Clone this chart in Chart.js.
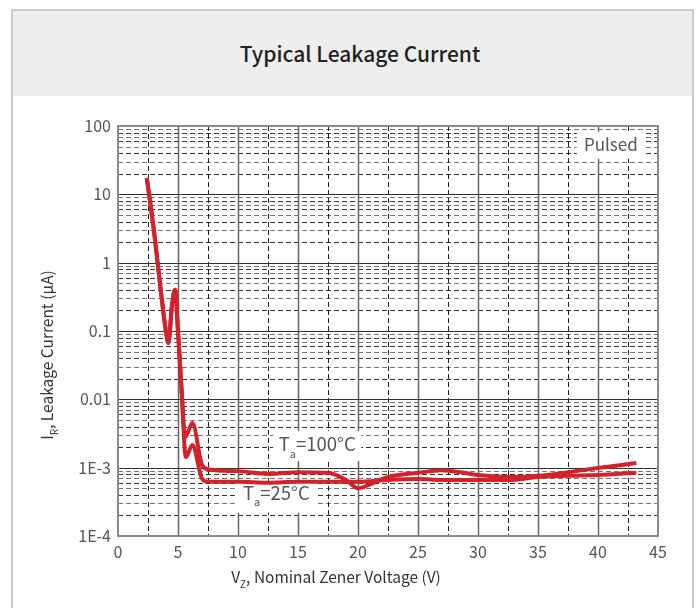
<!DOCTYPE html>
<html><head><meta charset="utf-8">
<script src="https://cdn.jsdelivr.net/npm/chart.js@4.4.1/dist/chart.umd.min.js"></script>
<style>
html,body{margin:0;padding:0;background:#fff;width:697px;height:608px;overflow:hidden;}
#card{position:absolute;left:11px;top:9px;width:683px;height:640px;border:2px solid #cbcbcb;box-sizing:border-box;background:#fff;}
#head{position:absolute;left:0;top:0;right:0;height:85px;background:#eeeeee;}
#title{position:absolute;left:0;top:0;width:697px;height:608px;pointer-events:none;}
#title div{position:absolute;left:0;width:720px;top:38px;text-align:center;font-family:"Noto Sans CJK SC","Noto Sans",sans-serif;font-size:21px;font-weight:500;color:#222;}
canvas{position:absolute;left:0;top:0;}
</style></head>
<body>
<div id="card"><div id="head"></div></div>
<div id="title"><div>Typical Leakage Current</div></div>
<canvas id="c" width="697" height="608"></canvas>
<script>
// ---- data ----
const voltage100 = [2.4, 3.0, 3.5, 4.0, 4.2, 4.5, 4.75, 5.0, 5.3, 5.6, 6.2, 7.0, 7.5, 10, 12.5, 15, 17.5, 19, 20, 21, 22.5, 25, 27, 30, 32.5, 35, 37.5, 40, 43.2];
const current100 = [17.3, 2.9, 0.49, 0.097, 0.067, 0.24, 0.40, 0.10, 0.0137, 0.0028, 0.0045, 0.0011, 0.00095, 0.00089, 0.00081, 0.00086, 0.00084, 0.00066, 0.0005, 0.00057, 0.00073, 0.00084, 0.00092, 0.00078, 0.00073, 0.00076, 0.00086, 0.00099, 0.00117];
const voltage25 = [2.4, 3.0, 3.5, 4.0, 4.2, 4.5, 4.75, 5.0, 5.3, 5.65, 6.2, 7.0, 7.5, 10, 12.5, 15, 17.5, 20, 22.5, 25, 27, 30, 32.5, 35, 37.5, 40, 43.2];
const current25 = [17.3, 2.9, 0.49, 0.097, 0.067, 0.24, 0.40, 0.10, 0.0137, 0.00143, 0.00215, 0.00069, 0.00062, 0.00062, 0.0006, 0.00062, 0.00062, 0.00062, 0.00066, 0.00068, 0.00066, 0.00066, 0.00066, 0.00073, 0.00076, 0.00078, 0.00084];
const yTickValues = [1e-4, 1e-3, 0.01, 0.1, 1, 10, 100];
const yTickLabels = ['1E-4', '1E-3', '0.01', '0.1', '1', '10', '100'];
const xTickValues = [0, 5, 10, 15, 20, 25, 30, 35, 40, 45];
const seriesNames = ['Ta=100°C', 'Ta=25°C'];

const FONT = '"Noto Sans CJK SC","Noto Sans",sans-serif';
const RED = '#d3222a';

function drawParts(ctx, parts, size, cx, cy, color) {
  const subSize = Math.round(size * 0.62);
  let w = 0;
  parts.forEach(p => { ctx.font = (p.sub ? subSize : size) + 'px ' + FONT; p.w = ctx.measureText(p.t).width; w += p.w; });
  let x = cx - w / 2;
  ctx.fillStyle = color;
  ctx.textBaseline = 'alphabetic';
  ctx.textAlign = 'left';
  parts.forEach(p => {
    ctx.font = (p.sub ? subSize : size) + 'px ' + FONT;
    ctx.fillText(p.t, x, cy + (p.sub ? size * 0.35 : 0));
    x += p.w;
  });
  return w;
}

const gridPlugin = {
  id: 'customGrid',
  beforeDatasetsDraw(chart) {
    const {ctx, chartArea: a, scales: {x, y}} = chart;
    ctx.save();
    ctx.beginPath(); ctx.rect(a.left, a.top, a.right - a.left, a.bottom - a.top); ctx.clip();
    ctx.lineWidth = 1;
    for (let d = -4; d < 2; d++) {
      for (let m = 2; m <= 9; m++) {
        const py = Math.round(y.getPixelForValue(m * Math.pow(10, d))) + 0.5;
        ctx.strokeStyle = (m % 2 === 0) ? '#333' : '#777';
        ctx.setLineDash([5, 3]);
        ctx.beginPath(); ctx.moveTo(a.left, py); ctx.lineTo(a.right, py); ctx.stroke();
      }
    }
    for (let v = 2.5; v < 45; v += 2.5) {
      const px = Math.round(x.getPixelForValue(v)) + 0.5;
      if (Math.abs(v % 5) < 1e-6) {
        ctx.setLineDash([]); ctx.strokeStyle = '#666'; ctx.lineWidth = 1.5;
      } else {
        ctx.setLineDash([5, 3]); ctx.strokeStyle = '#222'; ctx.lineWidth = 1;
      }
      ctx.beginPath(); ctx.moveTo(px, a.top); ctx.lineTo(px, a.bottom); ctx.stroke();
    }
    ctx.setLineDash([]); ctx.strokeStyle = '#333'; ctx.lineWidth = 1;
    yTickValues.forEach(v => {
      const py = Math.round(y.getPixelForValue(v)) + 0.5;
      ctx.beginPath(); ctx.moveTo(a.left, py); ctx.lineTo(a.right, py); ctx.stroke();
    });
    ctx.restore();
    ctx.save();
    ctx.strokeStyle = '#8a8a8a'; ctx.lineWidth = 2;
    ctx.strokeRect(a.left, a.top, a.right - a.left, a.bottom - a.top);
    ctx.fillStyle = '#fff';
    const pxP = x.getPixelForValue(43.9), pyP = y.getPixelForValue(55);
    ctx.fillRect(pxP - 68, pyP - 12, 68, 27);
    ctx.font = '17px ' + FONT; ctx.fillStyle = '#555'; ctx.textAlign = 'center'; ctx.textBaseline = 'middle';
    ctx.fillText('Pulsed', pxP - 34, pyP + 1);
    const p1x = x.getPixelForValue(16.6), p1y = y.getPixelForValue(0.00175);
    ctx.fillStyle = '#fff'; ctx.fillRect(p1x - 44, p1y - 20, 88, 30);
    drawParts(ctx, [{t: 'T'}, {t: 'a', sub: true}, {t: '=100°C'}], 18.5, p1x, p1y, '#555');
    const p2x = x.getPixelForValue(13.2), p2y = y.getPixelForValue(0.00034);
    ctx.fillStyle = '#fff'; ctx.fillRect(p2x - 40, p2y - 17, 80, 30);
    drawParts(ctx, [{t: 'T'}, {t: 'a', sub: true}, {t: '=25°C'}], 18.5, p2x, p2y, '#555');
    ctx.restore();
  },
  afterDraw(chart) {
    const {ctx} = chart;
    ctx.save();
    drawParts(ctx, [{t: 'V'}, {t: 'Z', sub: true}, {t: ', Nominal Zener Voltage (V)'}], 15.5, 336, 583, '#333');
    ctx.translate(53, 355); ctx.rotate(-Math.PI / 2);
    drawParts(ctx, [{t: 'I'}, {t: 'R', sub: true}, {t: ', Leakage Current (μA)'}], 15.5, 0, 0, '#333');
    ctx.restore();
  }
};

const toPts = (xs, ys) => xs.map((v, i) => ({x: v, y: ys[i]}));

new Chart(document.getElementById('c'), {
  type: 'line',
  data: {
    datasets: [
      {label: seriesNames[1], data: toPts(voltage25, current25), borderColor: RED, borderWidth: 4, pointRadius: 0, cubicInterpolationMode: 'monotone', fill: false},
      {label: seriesNames[0], data: toPts(voltage100, current100), borderColor: RED, borderWidth: 4, pointRadius: 0, cubicInterpolationMode: 'monotone', fill: false}
    ]
  },
  options: {
    responsive: false, animation: false, devicePixelRatio: 1,
    layout: {padding: {left: 0, top: 126, right: 39, bottom: 0}},
    plugins: {legend: {display: false}, tooltip: {enabled: false}, title: {display: false}},
    scales: {
      x: {
        type: 'linear', min: 0, max: 45,
        afterBuildTicks: s => { s.ticks = xTickValues.map(v => ({value: v})); },
        afterFit: s => { s.height = 72; },
        grid: {display: false, drawTicks: false}, border: {display: false},
        ticks: {padding: 6, color: '#555', font: {family: FONT, size: 16}, maxRotation: 0, callback: v => String(v)}
      },
      y: {
        type: 'logarithmic', min: 1e-4, max: 100,
        afterBuildTicks: s => { s.ticks = yTickValues.map(v => ({value: v})); },
        afterFit: s => { s.width = 118; },
        grid: {display: false, drawTicks: false}, border: {display: false},
        ticks: {padding: 7, color: '#555', font: {family: FONT, size: 16}, callback: (v, i) => yTickLabels[i]}
      }
    }
  },
  plugins: [gridPlugin]
});
</script>
</body></html>
